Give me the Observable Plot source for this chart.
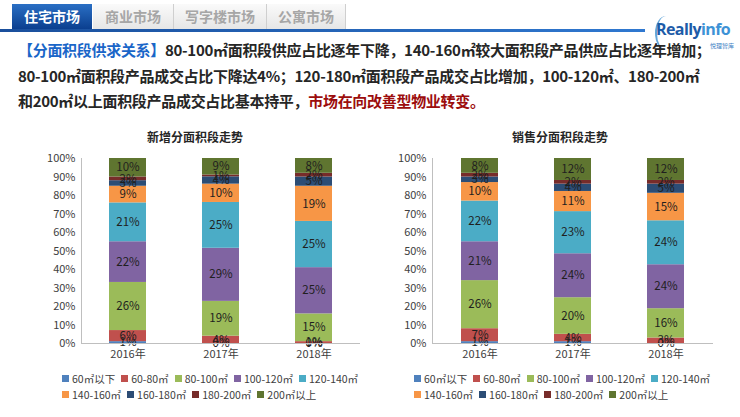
<!DOCTYPE html>
<html><head><meta charset="utf-8">
<script src="https://cdn.jsdelivr.net/npm/d3@7"></script>
<script src="https://cdn.jsdelivr.net/npm/@observablehq/plot@0.6"></script>
<style>
body{margin:0;width:740px;height:417px;background:#fff;position:relative;overflow:hidden;font-family:"Noto Sans CJK SC","Noto Sans",sans-serif;}
.tab{position:absolute;top:4px;height:25px;line-height:25px;font-size:14px;font-weight:bold;text-align:center;color:#a6a6a6;background:linear-gradient(#fafafa,#e6e6e6);border-right:1px solid #cfcfcf;}
.tab.active{color:#fff;background:linear-gradient(#2a6fc4,#0b3f8f);border:none;}
.headline{position:absolute;left:18px;font-size:15px;font-weight:bold;color:#262626;white-space:nowrap;letter-spacing:-0.3px;}
.ctitle{position:absolute;top:128px;font-size:12px;font-weight:bold;color:#262626;transform:translateX(-50%);white-space:nowrap;}
.legend{position:absolute;font-size:10.5px;color:#404040;}
.legend .row{display:flex;height:16px;align-items:center;white-space:nowrap;}
.legend .item{display:flex;align-items:center;margin-right:6px;}
.legend .sw{width:7px;height:7px;margin-right:3px;}
</style></head><body>
<script>
const years = ["2016年", "2017年", "2018年"];
const sizes = ["60㎡以下", "60-80㎡", "80-100㎡", "100-120㎡", "120-140㎡", "140-160㎡", "160-180㎡", "180-200㎡", "200㎡以上"];
const colors = ["#4F81BD", "#C0504D", "#9BBB59", "#8064A2", "#4BACC6", "#F79646", "#2C4D75", "#772C2A", "#5F7530"];
// 新增分面积段走势 (supply share, %)
const supply2016 = [1, 6, 26, 22, 21, 9, 3, 2, 10];
const supply2017 = [0, 4, 19, 29, 25, 10, 4, 1, 9];
const supply2018 = [0, 1, 15, 25, 25, 19, 5, 2, 8];
// 销售分面积段走势 (sales share, %)
const sales2016 = [1, 7, 26, 21, 22, 10, 3, 2, 8];
const sales2017 = [1, 4, 20, 24, 23, 11, 4, 2, 12];
const sales2018 = [0, 3, 16, 24, 24, 15, 5, 2, 12];
const yTicks = [0, 0.1, 0.2, 0.3, 0.4, 0.5, 0.6, 0.7, 0.8, 0.9, 1];
const titles = ["新增分面积段走势", "销售分面积段走势"];
const tabs = ["住宅市场", "商业市场", "写字楼市场", "公寓市场"];

function rowsOf(series) {
  const out = [];
  series.forEach((vals, i) => vals.forEach((v, j) => out.push({year: years[i], size: sizes[j], value: v})));
  return out;
}

const font = '"Noto Sans CJK SC","Noto Sans",sans-serif';
function chart(rows, marginLeft, marginRight) {
  return Plot.plot({
    width: 370, height: 215,
    marginTop: 8, marginBottom: 22, marginLeft, marginRight,
    style: {fontFamily: font, fontSize: "11px", color: "#404040", background: "transparent"},
    x: {domain: years, label: null, tickSize: 0, tickPadding: 7, paddingInner: 0.6, paddingOuter: 0.3},
    y: {domain: [0, 1], ticks: yTicks, tickFormat: d3.format(".0%"), label: null, tickSize: 0, tickPadding: 6},
    color: {domain: sizes, range: colors},
    marks: [
      Plot.barY(rows, Plot.stackY({offset: "normalize", x: "year", y: "value", fill: "size"})),
      Plot.text(rows, Plot.stackY({offset: "normalize", x: "year", y: "value", text: d => d.value + "%", fill: "#1f1f1f", fontSize: 11.5})),
      Plot.frame({anchor: "left", stroke: "#bfbfbf"}),
      Plot.ruleY([0], {stroke: "#bfbfbf"})
    ]
  });
}

function place(el, left, top) {
  el.style.position = "absolute"; el.style.left = left + "px"; el.style.top = top + "px";
  document.body.appendChild(el);
}

// header tabs
const tabPos = [[12, 80], [93, 80], [174, 92], [267, 78]];
tabs.forEach((t, i) => {
  const d = document.createElement("div");
  d.className = "tab" + (i === 0 ? " active" : "");
  d.textContent = t;
  d.style.left = tabPos[i][0] + "px"; d.style.width = tabPos[i][1] + "px";
  document.body.appendChild(d);
});
const line = document.createElement("div");
line.style.cssText = "position:absolute;left:0;top:29px;width:645px;height:3px;background:linear-gradient(90deg,#1a4f9c,#2f78d0);";
document.body.appendChild(line);

// logo
const logo = document.createElement("div");
logo.style.cssText = "position:absolute;left:652px;top:12px;width:88px;height:44px;";
logo.innerHTML = '<div style="position:absolute;left:3px;top:4px;width:20px;height:34px;border-left:2px solid #3a8fd0;border-radius:50% 0 0 50%;opacity:.8"></div>' +
  '<div style="position:absolute;left:4px;top:6px;font:bold 16px \'Open Sans\',sans-serif;letter-spacing:-0.6px;"><span style="color:#1d5ba8">Really</span><span style="color:#3d92d6">info</span></div>' +
  '<div style="position:absolute;left:58px;top:29px;font-size:6px;color:#3d7fc4;white-space:nowrap;">悦理智库</div>';
document.body.appendChild(logo);

// headline text
const lines = [
  '<span style="color:#1a66c8">【分面积段供求关系】</span>80-100㎡面积段供应占比逐年下降，140-160㎡较大面积段产品供应占比逐年增加；',
  '80-100㎡面积段产品成交占比下降达4%；120-180㎡面积段产品成交占比增加，100-120㎡、180-200㎡',
  '和200㎡以上面积段产品成交占比基本持平，<span style="color:#9c0d0d">市场在向改善型物业转变。</span>'
];
lines.forEach((h, i) => {
  const d = document.createElement("div");
  d.className = "headline"; d.innerHTML = h;
  d.style.top = (39 + i * 25.5) + "px";
  document.body.appendChild(d);
});

// chart titles
[[195, titles[0]], [560, titles[1]]].forEach(([x, t]) => {
  const d = document.createElement("div");
  d.className = "ctitle"; d.textContent = t; d.style.left = x + "px";
  document.body.appendChild(d);
});

// charts
place(chart(rowsOf([supply2016, supply2017, supply2018]), 81, 10), 0, 150);
place(chart(rowsOf([sales2016, sales2017, sales2018]), 62, 27), 370, 150);

// legends
function legend(left) {
  const d = document.createElement("div");
  d.className = "legend";
  d.style.left = left + "px"; d.style.top = "370px";
  [sizes.slice(0, 5), sizes.slice(5)].forEach((grp, r) => {
    const row = document.createElement("div"); row.className = "row";
    grp.forEach(s => {
      const it = document.createElement("span"); it.className = "item";
      it.innerHTML = `<span class="sw" style="background:${colors[sizes.indexOf(s)]}"></span>${s}`;
      row.appendChild(it);
    });
    d.appendChild(row);
  });
  document.body.appendChild(d);
}
legend(62);
legend(414);
</script>
</body></html>
